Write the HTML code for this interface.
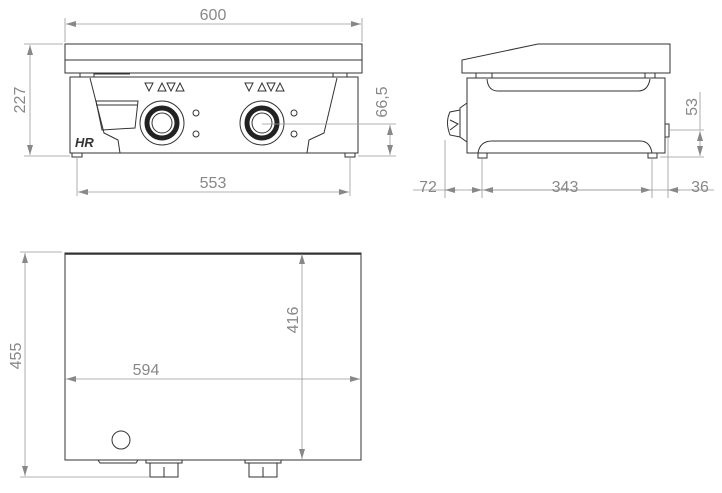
<!DOCTYPE html>
<html><head><meta charset="utf-8"><style>
html,body{margin:0;padding:0;background:#fff;width:722px;height:493px;overflow:hidden}
text{font-family:"Liberation Sans",sans-serif;fill:#888;font-size:16px}
</style></head><body>
<svg width="722" height="493" viewBox="0 0 722 493" xmlns="http://www.w3.org/2000/svg">
<defs>
<marker id="a" viewBox="0 0 10 6" refX="10" refY="3" markerWidth="10" markerHeight="6" orient="auto-start-reverse" markerUnits="userSpaceOnUse"><path d="M0,0 L10,3 L0,6 z" fill="#888"/></marker>
</defs>
<g fill="none" stroke="#333" stroke-width="1">
<!-- front view -->
<rect x="65" y="44" width="297" height="29" fill="#fff"/>
<line x1="65" y1="60" x2="362" y2="60"/>
<rect x="80" y="73" width="14" height="4"/><rect x="333" y="73" width="14" height="4"/>
<line x1="94" y1="74" x2="130" y2="74"/>
<rect x="70" y="77" width="288" height="76"/>
<path d="M90,78 L104,133 L118,140 L120,153"/>
<path d="M337,78 L324,133 L309,140 L307,153"/>
<path d="M96,101 L138,101 L135,128 L102,130 Z"/>
<line x1="96" y1="105" x2="137" y2="105"/>
<rect x="72" y="153" width="10" height="4"/><rect x="345" y="153" width="10" height="4"/>
<text x="75" y="147" style="font-size:13px;font-weight:bold;fill:#333;stroke:none;font-style:italic">HR</text>
<circle cx="162" cy="123" r="22"/><circle cx="262" cy="123" r="22"/>
<circle cx="162" cy="123" r="15" stroke-width="5" stroke="#222"/><circle cx="262" cy="123" r="15" stroke-width="5" stroke="#222"/>
<circle cx="162" cy="123" r="10"/><circle cx="262" cy="123" r="10"/>
<circle cx="196" cy="113" r="3"/><circle cx="196" cy="134" r="3"/>
<circle cx="294" cy="113" r="3"/><circle cx="294" cy="134" r="3"/>
<g fill="#fff" stroke="#333">
<path d="M145,83 L153,83 L149,91Z"/><path d="M158,91 L166,91 L162,83Z"/><path d="M167,83 L175,83 L171,91Z"/><path d="M176,91 L184,91 L180,83Z"/>
<path d="M245,83 L253,83 L249,91Z"/><path d="M258,91 L266,91 L262,83Z"/><path d="M267,83 L275,83 L271,91Z"/><path d="M276,91 L284,91 L280,83Z"/>
</g>
<!-- side view -->
<path d="M462,73 L462,60 L538,44 L670,44 L670,73 Z" fill="#fff"/>
<rect x="476" y="73" width="16" height="5"/><rect x="645" y="73" width="10" height="5"/>
<rect x="467" y="78" width="198" height="75"/>
<path d="M487,79 Q488,91 498,91 L638,91 Q648,91 650,79"/>
<path d="M478,153 Q480,141 492,141 L640,141 Q650,141 652,153"/>
<rect x="478" y="153" width="9" height="5"/><rect x="648" y="153" width="9" height="5"/>
<path d="M467,103 L460,108 L460,137 L467,142 Z"/>
<path d="M460,110 L450,112 Q445,122 450,135 L460,137"/>
<path d="M450,120 L458,124 L450,130"/>
<rect x="665" y="124" width="4" height="13"/>
<!-- top view -->
<rect x="65" y="253" width="296" height="207" fill="#fff"/>
<line x1="65" y1="254" x2="361" y2="254" stroke-width="1.5"/>
<circle cx="121" cy="440" r="9"/>
<path d="M98,460 L100,463 L136,463 L138,460"/>
<rect x="146" y="460" width="36" height="3"/><rect x="150" y="463" width="28" height="14"/>
<line x1="164" y1="467" x2="164" y2="477"/>
<rect x="245" y="460" width="36" height="3"/><rect x="249" y="463" width="28" height="14"/>
<line x1="263" y1="467" x2="263" y2="477"/>
</g>
<g stroke="#999" stroke-width="0.8" fill="none">
<!-- front dims -->
<line x1="65" y1="18" x2="65" y2="42"/><line x1="362" y1="18" x2="362" y2="42"/>
<line x1="66" y1="24" x2="361" y2="24" marker-start="url(#a)" marker-end="url(#a)"/>
<line x1="24" y1="44" x2="63" y2="44"/><line x1="24" y1="156" x2="70" y2="156"/>
<line x1="30" y1="45" x2="30" y2="155" marker-start="url(#a)" marker-end="url(#a)"/>
<line x1="77" y1="158" x2="77" y2="196"/><line x1="350" y1="158" x2="350" y2="196"/>
<line x1="78" y1="192" x2="349" y2="192" marker-start="url(#a)" marker-end="url(#a)"/>
<line x1="262" y1="124" x2="396" y2="124"/><line x1="358" y1="156" x2="396" y2="156"/>
<line x1="390" y1="125" x2="390" y2="155" marker-start="url(#a)" marker-end="url(#a)"/>
<!-- side dims -->
<line x1="445" y1="140" x2="445" y2="198"/><line x1="482" y1="158" x2="482" y2="198"/>
<line x1="652" y1="158" x2="652" y2="198"/><line x1="668" y1="137" x2="668" y2="198"/>
<line x1="413" y1="190" x2="714" y2="190"/>
<line x1="457" y1="190" x2="445" y2="190" marker-end="url(#a)"/><line x1="470" y1="190" x2="482" y2="190" marker-end="url(#a)"/>
<line x1="483" y1="190" x2="651" y2="190" marker-start="url(#a)" marker-end="url(#a)"/>
<line x1="680" y1="190" x2="668" y2="190" marker-end="url(#a)"/>
<line x1="670" y1="130" x2="704" y2="130"/><line x1="660" y1="157" x2="704" y2="157"/>
<line x1="700" y1="92" x2="700" y2="130"/>
<line x1="700" y1="131" x2="700" y2="156" marker-start="url(#a)" marker-end="url(#a)"/>
<!-- top dims -->
<line x1="20" y1="252" x2="62" y2="252"/><line x1="20" y1="477" x2="150" y2="477"/>
<line x1="25" y1="253" x2="25" y2="476" marker-start="url(#a)" marker-end="url(#a)"/>
<line x1="302" y1="254" x2="302" y2="459" marker-start="url(#a)" marker-end="url(#a)"/>
<line x1="66" y1="379" x2="360" y2="379" marker-start="url(#a)" marker-end="url(#a)"/>
</g>
<text x="213" y="20" text-anchor="middle">600</text>
<text x="213" y="188" text-anchor="middle">553</text>
<text transform="translate(25,100) rotate(-90)" text-anchor="middle">227</text>
<text transform="translate(387,102) rotate(-90)" text-anchor="middle">66,5</text>
<text x="428" y="192" text-anchor="middle">72</text>
<text x="565" y="192" text-anchor="middle">343</text>
<text x="700" y="192" text-anchor="middle">36</text>
<text transform="translate(697,107) rotate(-90)" text-anchor="middle">53</text>
<text transform="translate(21,356) rotate(-90)" text-anchor="middle">455</text>
<text transform="translate(298,320) rotate(-90)" text-anchor="middle">416</text>
<text x="146" y="375" text-anchor="middle">594</text>
</svg>
</body></html>
